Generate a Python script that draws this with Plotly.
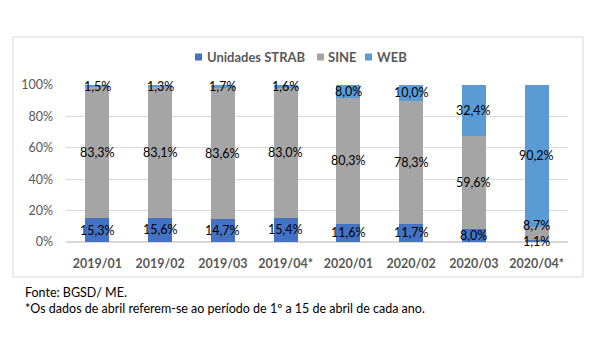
import plotly.graph_objects as go

categories = ["2019/01", "2019/02", "2019/03", "2019/04*", "2020/01", "2020/02", "2020/03", "2020/04*"]
strab = [15.3, 15.6, 14.7, 15.4, 11.6, 11.7, 8.0, 1.1]
sine = [83.3, 83.1, 83.6, 83.0, 80.3, 78.3, 59.6, 8.7]
web = [1.5, 1.3, 1.7, 1.6, 8.0, 10.0, 32.4, 90.2]
series_names = ["Unidades STRAB", "SINE", "WEB"]
colors = ["#4472C4", "#A5A5A5", "#5B9BD5"]
yticks = [0, 20, 40, 60, 80, 100]

FONT = "Lato"
fig = go.Figure()
for name, vals, col in zip(series_names, [strab, sine, web], colors):
    fig.add_trace(go.Bar(x=categories, y=vals, name=name, marker_color=col,
                         marker_line_width=0, hoverinfo="skip", showlegend=False))

series = [strab, sine, web]
for i, cat in enumerate(categories):
    tot = sum(s[i] for s in series)
    base = 0
    for k, s in enumerate(series):
        v = s[i] / tot * 100
        yshift = 8 if (cat == "2020/04*" and k == 1) else 0
        fig.add_annotation(x=cat, y=base + v / 2, text=f"{s[i]:.1f}%".replace(".", ","),
                           showarrow=False, yshift=yshift,
                           font=dict(family=FONT, size=12.5, color="#000000"))
        base += v

# custom legend (swatch + bold label), pixel positions converted to paper coords
L, W, B, H = 66, 502, 242, 157
def px(p): return (p - L) / W
def py(p): return (B - p) / H
legend_items = [(195, 205), (317, 326), (365, 375)]
for (sx, tx), name, col in zip(legend_items, series_names, colors):
    fig.add_shape(type="rect", xref="paper", yref="paper", x0=px(sx), x1=px(sx + 7),
                  y0=py(60.5), y1=py(53.5), fillcolor=col, line=dict(width=0))
    fig.add_annotation(xref="paper", yref="paper", x=px(tx), y=py(57), xanchor="left",
                       yanchor="middle", text=f"<b>{name}</b>", showarrow=False,
                       font=dict(family=FONT, size=13, color="#595959"))

fig.update_layout(
    barmode="stack", barnorm="percent", bargap=0.62,
    width=600, height=339,
    margin=dict(l=66, r=32, t=85, b=97),
    paper_bgcolor="white", plot_bgcolor="white",
    font=dict(family=FONT, color="#595959"),
    showlegend=False,
    xaxis=dict(showgrid=False, showline=False, ticks="", ticklabelstandoff=12,
               tickfont=dict(family=FONT, size=12.5, color="#595959", weight="bold")),
    yaxis=dict(range=[0, 100], tickvals=yticks, ticktext=[f"{t}%" for t in yticks],
               showgrid=True, gridcolor="#D9D9D9", zeroline=True, zerolinecolor="#D9D9D9",
               showline=False, ticks="", ticklabelstandoff=12,
               tickfont=dict(family=FONT, size=12.5, color="#595959")),
)
fig.add_shape(type="rect", xref="paper", yref="paper", x0=px(13), x1=px(583), y0=py(277), y1=py(37),
              line=dict(color="#D9D9D9", width=1), fillcolor="rgba(0,0,0,0)", layer="below")
fig.add_annotation(xref="paper", yref="paper", x=px(23), y=py(292), xanchor="left", yanchor="middle",
                   text="Fonte: BGSD/ ME.", showarrow=False,
                   font=dict(family=FONT, size=12.5, color="#000000"))
fig.add_annotation(xref="paper", yref="paper", x=px(23), y=py(308), xanchor="left", yanchor="middle",
                   text="*Os dados de abril referem-se ao período de 1º a 15 de abril de cada ano.",
                   showarrow=False, font=dict(family=FONT, size=12.5, color="#000000"))

fig.write_html("out.html")
